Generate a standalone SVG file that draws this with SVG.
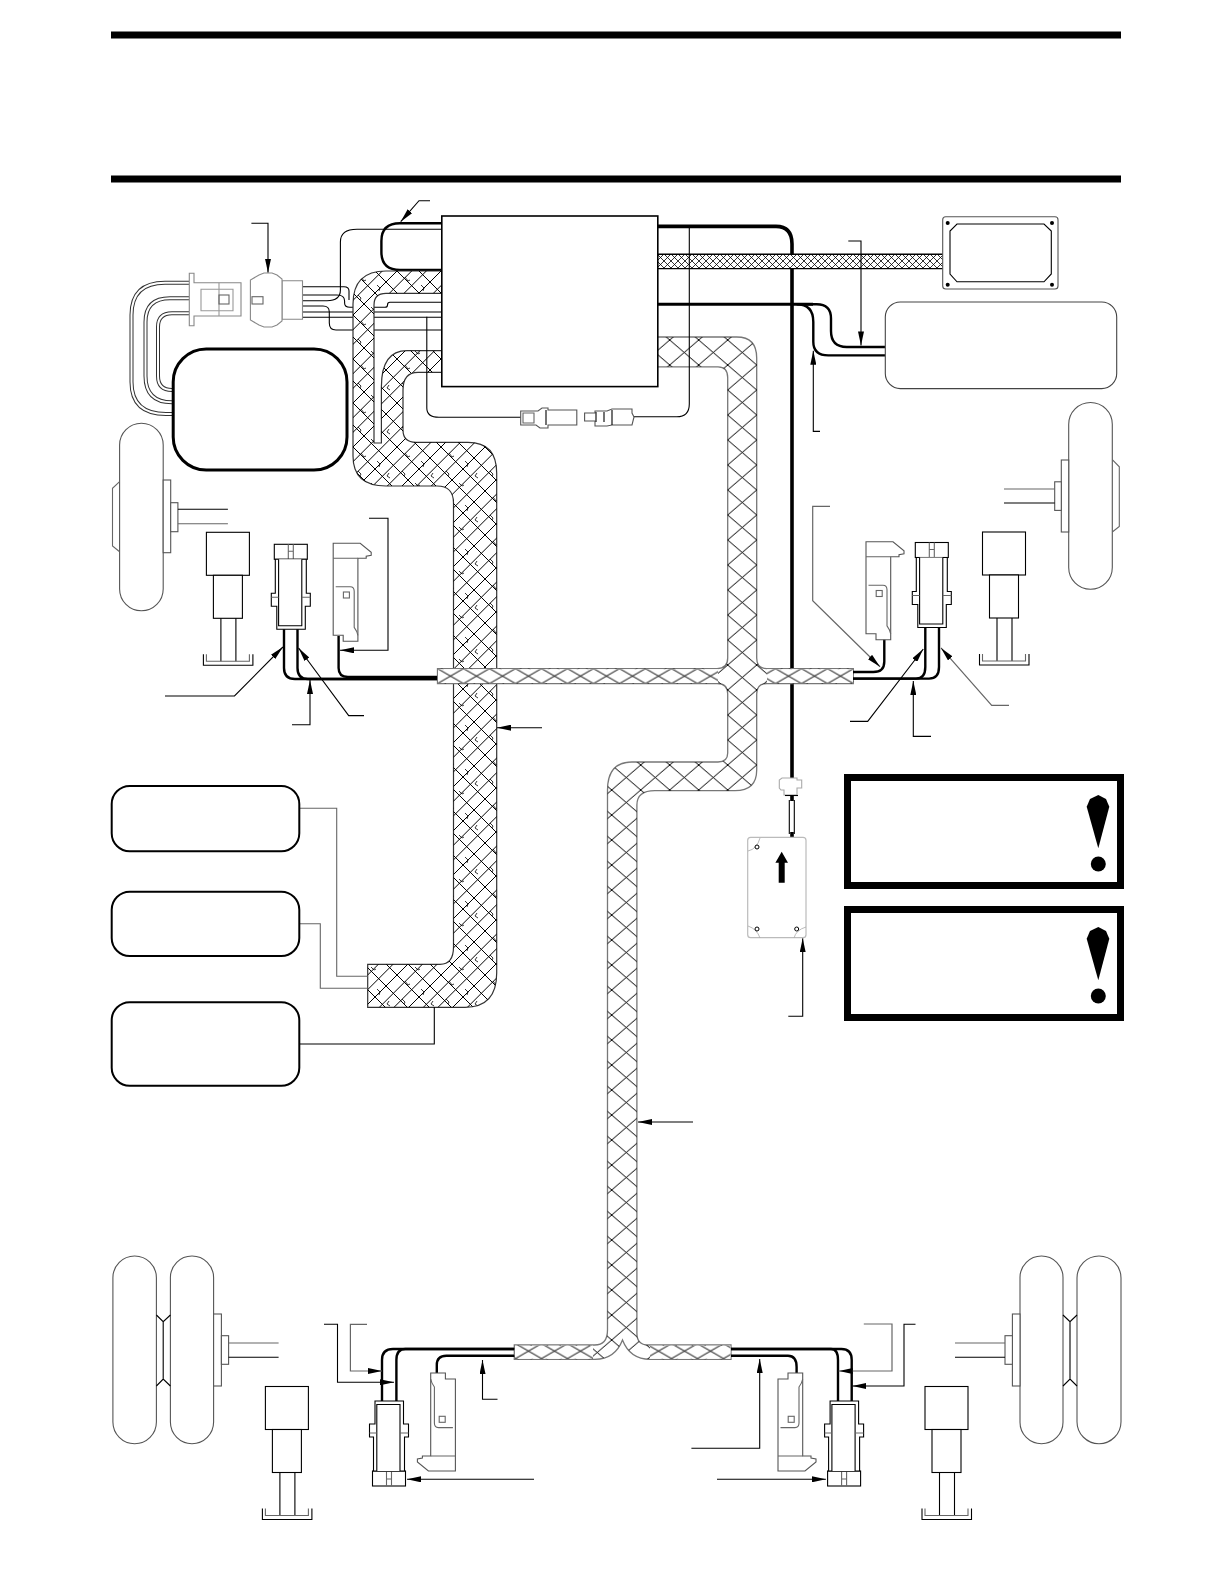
<svg xmlns="http://www.w3.org/2000/svg" width="1225" height="1585" viewBox="0 0 1225 1585">
<style>
.t{fill:none;stroke:#000;stroke-width:1.1}
.g{fill:none;stroke:#666;stroke-width:1.1}
.w{fill:#fff;stroke:#000;stroke-width:1.1}
.wg{fill:#fff;stroke:#555;stroke-width:1.1}
.wire{fill:none;stroke:#000;stroke-width:2.4}
.dbl{fill:none;stroke:#333;stroke-width:4}
.dbli{fill:none;stroke:#fff;stroke-width:2}
.lead{fill:none;stroke:#000;stroke-width:1.1;marker-end:url(#a)}
.leadg{fill:none;stroke:#666;stroke-width:1.2;marker-end:url(#a)}
.box{fill:#fff;stroke:#000;stroke-width:2}
.warn{fill:#fff;stroke:#000;stroke-width:7}
</style>
<defs>
<marker id="a" markerUnits="userSpaceOnUse" markerWidth="14" markerHeight="6" refX="14" refY="3" orient="auto"><path d="M0 0L14 3L0 6Z"/></marker>
<pattern id="hA" patternUnits="userSpaceOnUse" width="44" height="44" x="353" y="271">
<path d="M-1 1L1 -1M-1 15.67L15.67 -1M-1 30.33L30.33 -1M-1 45L45 -1M13.67 45L45 13.67M28.33 45L45 28.33M43 45L45 43M-1 -1L45 45M21 -1L45 23M43 -1L45 1M-1 21L23 45M-1 43L1 45" fill="none" stroke="#000" stroke-width="1"/>
<path d="M8 6l3 4l2 -1M24 14l3 3l-1 3M36 26l-2 3l3 2M5 24l3 3l-1 2M18 36l3 3l2 -1" fill="none" stroke="#000" stroke-width=".8"/>
</pattern>
<pattern id="hB" patternUnits="userSpaceOnUse" width="29" height="25" x="727.7" y="340">
<path d="M0 0L29 25M29 0L0 25" fill="none" stroke="#000" stroke-width="1"/>
</pattern>
<pattern id="hC" patternUnits="userSpaceOnUse" width="26" height="15" x="437.5" y="668.6">
<path d="M0 0L26 15M26 0L0 15" fill="none" stroke="#000" stroke-width="1"/>
</pattern>
<pattern id="hD" patternUnits="userSpaceOnUse" width="7" height="7" x="657" y="254">
<path d="M0 0L7 7M7 0L0 7" fill="none" stroke="#000" stroke-width=".8"/>
</pattern>
<g id="conn">
<rect class="w" x="0" y="0" width="33" height="15"/>
<path class="g" d="M14 0V15M19 0V15M14 7H19"/>
<path class="w" d="M1 15V49H-3V62H2.5V85H31V62H36V49H32V15Z"/>
<path class="w" d="M4.3 15V81.5H27.5V15"/>
<path class="g" d="M-3 53H4.3M27.5 53H36"/>
</g>
<g id="clip">
<path class="wg" d="M0 0H27L38 9V12L33 13V15H24.7V92L24.7 98H10V92H0Z"/>
<path class="g" d="M0 15H24.7M2.5 43.4H17Q21 43.4 21 48V84Q24 88 24.7 92"/>
<rect class="g" x="10.2" y="48.7" width="6" height="6"/>
</g>
<g id="jackUp">
<rect class="w" x="0" y="0" width="43" height="43"/>
<rect class="w" x="7" y="43" width="29" height="43"/>
<path class="t" d="M14.5 86V129M29.5 86V129"/>
<path class="t" d="M-3 122V133H46.5V122"/>
<path class="g" d="M0 122V129H43V122"/>
</g>
<g id="scr"><circle r="2" fill="#000"/></g>
</defs>

<rect width="1225" height="1585" fill="#fff"/>

<g id="header-rules">
<rect x="111" y="31.5" width="1010" height="7"/>
<rect x="111" y="175.5" width="1010" height="7"/>
</g>

<g id="connectors-under">
<path class="wire" d="M442 223.3H400Q381.4 223.3 381.4 241V252Q381.4 270 400 270H442"/>
<path class="t" d="M442 229.3H357Q340.4 229.3 340.4 242V290Q340.4 300.7 327 300.7H302.5"/>
<path class="t" d="M302.5 286.7H344Q349 286.7 349 291V300"/>
<path class="t" d="M302.5 295H337Q344.6 295 344.6 301V303Q344.6 307.3 350 307.3H385Q387.5 307.3 387.5 305Q387.5 302.3 390 302.3H442"/>
<path class="t" d="M302.5 306H323Q329.3 306 329.3 312V323Q329.3 330 336 330H442"/>
<path class="t" d="M302.5 312H442M302.5 317.3H442"/>
<path class="dbl" d="M189 282.7H165Q131.5 282.7 131.5 315V382Q131.5 414 166 414H174"/>
<path class="dbli" d="M189 282.7H165Q131.5 282.7 131.5 315V382Q131.5 414 166 414H174"/>
<path class="dbl" d="M189 298.3H170Q145.5 298.3 145.5 322V376Q145.5 402.3 172 402.3H174"/>
<path class="dbli" d="M189 298.3H170Q145.5 298.3 145.5 322V376Q145.5 402.3 172 402.3H174"/>
<path class="dbl" d="M189 313.3H172Q158 313.3 158 327V376Q158 390 172 390H174"/>
<path class="dbli" d="M189 313.3H172Q158 313.3 158 327V376Q158 390 172 390H174"/>
<path fill="none" stroke="#000" stroke-width="3.6" d="M657 226.4H776Q792 226.4 792 244V777"/>
</g>

<g id="harness-left">
<path fill="#fff" stroke="#333" stroke-width="1.2" d="M442 271H386Q353 271 353 304V456Q353 486 386 486H437Q453.5 486 453.5 503V947Q453.5 964.3 440 964.3H367.7V1007.3H465Q496.7 1007.3 496.7 973V473Q496.7 442.3 468 442.3H416Q403 442.3 403 430V390Q403 372.3 418 372.3H442V350.7H407Q381.4 350.7 381.4 386.7V443H374V305Q374 293.3 386 293.3H442Z"/>
<path fill="url(#hA)" d="M442 271H386Q353 271 353 304V456Q353 486 386 486H437Q453.5 486 453.5 503V947Q453.5 964.3 440 964.3H367.7V1007.3H465Q496.7 1007.3 496.7 973V473Q496.7 442.3 468 442.3H416Q403 442.3 403 430V390Q403 372.3 418 372.3H442V350.7H407Q381.4 350.7 381.4 386.7V443H374V305Q374 293.3 386 293.3H442Z"/>
</g>

<g id="harness-right">
<path fill="#fff" stroke="#777" stroke-width="1.3" d="M657 337H736.7Q756.7 337 756.7 358V658Q756.7 668.6 767 668.6H853.3V683.5H767Q756.7 683.5 756.7 694V770Q756.7 790.7 735 790.7H655Q636.9 790.7 636.9 805V1333Q636.9 1345 648 1345H731V1359.3H650Q630 1359.3 622.5 1340Q615 1359.3 595 1359.3H514.3V1345H594.6Q607.5 1345 607.5 1330V790Q607.5 762 632 762H718Q727.7 762 727.7 753V694Q727.7 683.5 717 683.5H437.5V668.6H717Q727.7 668.6 727.7 658V377.5Q727.7 366.8 718 366.8H657Z"/>
<path fill="url(#hB)" d="M657 337H736.7Q756.7 337 756.7 358V658Q756.7 668.6 767 668.6H853.3V683.5H767Q756.7 683.5 756.7 694V770Q756.7 790.7 735 790.7H655Q636.9 790.7 636.9 805V1333Q636.9 1345 648 1345H731V1359.3H650Q630 1359.3 622.5 1340Q615 1359.3 595 1359.3H514.3V1345H594.6Q607.5 1345 607.5 1330V790Q607.5 762 632 762H718Q727.7 762 727.7 753V694Q727.7 683.5 717 683.5H437.5V668.6H717Q727.7 668.6 727.7 658V377.5Q727.7 366.8 718 366.8H657Z"/>
<rect x="438" y="669.2" width="280" height="13.8" fill="#fff"/>
<rect x="438" y="669.2" width="280" height="13.8" fill="url(#hC)"/>
<rect x="767" y="669.2" width="86" height="13.8" fill="#fff"/>
<rect x="767" y="669.2" width="86" height="13.8" fill="url(#hC)"/>
<rect x="515" y="1345.6" width="78" height="13.2" fill="#fff"/>
<rect x="515" y="1345.6" width="78" height="13.2" fill="url(#hC)"/>
<rect x="650" y="1345.6" width="80.5" height="13.2" fill="#fff"/>
<rect x="650" y="1345.6" width="80.5" height="13.2" fill="url(#hC)"/>
</g>

<g id="harness-top">
<rect x="657" y="254.3" width="286" height="14.3" fill="#fff"/>
<rect x="657" y="254.3" width="286" height="14.3" fill="url(#hD)"/>
<path fill="none" stroke="#000" stroke-width="1.4" d="M657 254.3H943M657 268.6H943"/>
</g>

<g id="ecu"><rect x="441.8" y="216" width="216" height="170.6" fill="#fff" stroke="#000" stroke-width="1.6"/></g>

<g id="connectors">
<path class="t" d="M426.8 316.7V408Q426.8 417.3 439 417.3H521"/>
<path class="t" d="M689.3 226V404Q689.3 416.8 676.7 416.8H634"/>
<path fill="none" stroke="#000" stroke-width="3" d="M657 304.3H813"/>
<path class="wire" d="M800 304.3H816.7Q831 304.3 831 318.6V331Q831 347 846.7 347H885.3"/>
<path class="wire" d="M796.7 304.3Q813.3 304.3 813.3 322V341.8Q813.3 355.4 828.3 355.4H885.3"/>
<path class="wire" d="M284 627V668Q284 679 295 679H437"/>
<path class="wire" d="M297.5 627V668Q297.5 679 308 679H437"/>
<path class="wire" d="M338.6 636V668Q338.6 677 348 677H437"/>
<path class="wire" d="M884.3 638V661.4Q884.3 672 873.3 672H853"/>
<path class="wire" d="M925.3 626V667Q925.3 678.6 916 678.6H853"/>
<path class="wire" d="M939 626V667Q939 678.6 929 678.6H853"/>
<path class="wire" d="M514 1349H393Q382 1349 382 1360V1403"/>
<path class="wire" d="M514 1349H405.4Q396.4 1349 396.4 1360V1403"/>
<path class="wire" d="M514 1355.7H446.4Q436.8 1355.7 436.8 1365V1373"/>
<path class="wire" d="M731 1349H841.4Q851.7 1349 851.7 1360V1403"/>
<path class="wire" d="M731 1349H831Q838 1349 838 1360V1403"/>
<path class="wire" d="M731 1355.7H788Q796.6 1355.7 796.6 1367V1373"/>
<path class="t" d="M299.3 1044H434.3V1007"/>
<path class="g" d="M299.3 808.3H336.7V976.3H367.7"/>
<path class="g" d="M299.3 923.7H320.3V988.3H367.7"/>
<path fill="none" stroke="#000" stroke-width="3.6" d="M792 777V783"/>
<path fill="none" stroke="#000" stroke-width="3.6" d="M792 796V801M792 832V837"/>
<path class="t" d="M789.3 800V834M794.3 800V834"/>
</g>

<g id="leaders">
<path class="lead" d="M430 200.7H419L400.7 221.7"/>
<path class="lead" d="M251.4 223.3H268V272.7"/>
<path class="lead" d="M848.3 241H861V345.4"/>
<path class="lead" d="M820 431.4H813.3V350.7"/>
<path class="lead" d="M369 518.3H388V650.3H340"/>
<path class="lead" d="M165 696H234.5L282.9 647"/>
<path class="lead" d="M292 724.7H310V680"/>
<path class="lead" d="M364 715.6H348.7L298.6 648"/>
<path class="lead" d="M542 727.7H497"/>
<path class="lead" d="M693 1122H638"/>
<path class="leadg" d="M830 506.4H812.7V600.7L880 666.8"/>
<path class="lead" d="M850 721.4H867.7L923.3 649"/>
<path class="lead" d="M931 736.4H913.3V681"/>
<path class="leadg" d="M1009 705.4H991.7L941 647.9"/>
<path class="lead" d="M788.3 1016.3H802.7V938.3"/>
<path class="lead" d="M324 1324.3H337.5V1382.3H394"/>
<path class="leadg" d="M367 1324.3H350.4V1371H382"/>
<path class="lead" d="M497.5 1399.3H482.5V1360"/>
<path class="lead" d="M534 1479.3H407"/>
<path class="leadg" d="M863.8 1324H892V1371H838.6"/>
<path class="lead" d="M915.5 1324.3H904V1386H852.4"/>
<path class="lead" d="M691.4 1448.3H759.7V1359"/>
<path class="lead" d="M717 1479.3H825.9"/>
</g>

<g id="plug-left">
<path fill="#fff" stroke="#888" stroke-width="1.1" d="M189.3 273.3H194V282.7H241V316H194V325.7H189.3Z"/>
<path fill="none" stroke="#999" stroke-width="1.1" d="M219 282.7V316M201 289.3H233V310.7H201Z"/>
<rect class="g" x="219" y="295" width="10" height="9"/>
</g>
<g id="socket-left">
<path fill="#fff" stroke="#888" stroke-width="1.1" d="M282 280.7H302.5V319.3H282Z"/>
<path fill="#fff" stroke="#888" stroke-width="1.1" d="M259 275L264 273H272L277 275L282 279V321L277 325L272 327H264L259 325L250.4 320V280Z"/>
<rect class="g" x="252" y="296.7" width="11" height="7.3"/>
</g>
<g id="inline-connector-a">
<path class="wg" d="M520.7 411H538L542 408H548V410H576.8V425H548V428H540L536 425H520.7Z"/>
<path class="t" d="M546 410V425"/>
<path class="g" d="M523 413L534 413V423H523Z"/>
</g>
<g id="inline-connector-b">
<path class="wg" d="M584.6 413H595V411H607L612 409H632V413L634 417L632 425H612L607 426H595V421H584.6Z"/>
<path class="t" d="M596 412V422M604 412V422M612 410V425"/>
</g>
<g id="box-big"><rect x="173.2" y="349" width="173.8" height="121" rx="33" fill="#fff" stroke="#000" stroke-width="3"/></g>
<g id="box-plate">
<rect class="wg" x="942.7" y="216.8" width="115.3" height="72.2" rx="3"/>
<path class="t" d="M957 224H1044L1051.3 231V274L1044 281.8H957L950 274V231Z"/>
<use href="#scr" x="947.7" y="223"/><use href="#scr" x="1052" y="223"/><use href="#scr" x="947.7" y="284.7"/><use href="#scr" x="1052" y="284.7"/>
</g>
<g id="box-right"><rect x="885.3" y="302" width="231.4" height="86.6" rx="15" fill="#fff" stroke="#444" stroke-width="1.1"/></g>
<g id="box-a"><rect class="box" x="111.7" y="786" width="187.6" height="65.3" rx="18"/></g>
<g id="box-b"><rect class="box" x="111.7" y="891.7" width="187.6" height="64.3" rx="18"/></g>
<g id="box-c"><rect class="box" x="111.7" y="1002.3" width="187.6" height="83.4" rx="18"/></g>

<g id="warning-1">
<rect class="warn" x="847.5" y="777.5" width="273" height="108"/>
<path d="M1098.3 795L1106 799L1109.3 806.7L1098.3 848.3L1086.7 806.7L1090 799Z"/><circle cx="1098.3" cy="864" r="7.5"/>
</g>
<g id="warning-2">
<rect class="warn" x="847.5" y="909.5" width="273" height="108"/>
<path d="M1098.3 927L1106 931L1109.3 938.7L1098.3 980.3L1086.7 938.7L1090 931Z"/><circle cx="1098.3" cy="996" r="7.5"/>
</g>

<g id="module">
<path fill="#fff" stroke="#aaa" stroke-width="1.1" d="M782 778H797V780H801.7V788H797V795H784V790H781L779.3 788V780L782 778Z"/>
<path class="t" d="M785 795.5H798"/>
<rect x="747.7" y="837.3" width="58.3" height="100.4" rx="3" fill="#fff" stroke="#bbb" stroke-width="1.2"/>
<path fill="none" stroke="#aaa" stroke-width=".8" d="M748 851Q757 849 760 838M794 938Q796 930 806 927M748 926Q757 929 760 938"/>
<circle cx="757" cy="847" r="2" fill="#fff" stroke="#000"/><circle cx="757" cy="929" r="2" fill="#fff" stroke="#000"/><circle cx="796.7" cy="929" r="2" fill="#fff" stroke="#000"/>
<path d="M781.7 851.7L788 862.7H784.7V882.7H778.7V862.7H775.4Z"/>
</g>

<g id="wheel-left">
<rect class="wg" x="119.6" y="423.3" width="43.6" height="187.4" rx="21.8"/>
<path class="g" d="M119.6 481.7L112.5 488.3V546L119.6 551.7"/>
<rect class="wg" x="163.2" y="480" width="7.5" height="72.7"/>
<rect class="wg" x="170.7" y="502.7" width="7.2" height="29"/>
<path class="t" d="M177.9 509.3H227.9"/><path class="g" d="M177.9 523.7H227.9" stroke-width="1.6"/>
</g>
<use id="jack-left" href="#jackUp" x="206.4" y="532.3"/>
<use id="conn-left" href="#conn" x="274.3" y="544.3"/>
<use id="clip-left" href="#clip" x="333.2" y="543.3"/>

<g id="wheel-right">
<rect class="wg" x="1068.7" y="402.5" width="43.6" height="186.8" rx="21.8"/>
<path class="g" d="M1112.3 459.6L1119.3 466.8V526.4L1112.3 532"/>
<rect class="wg" x="1061.3" y="460" width="7.4" height="72"/>
<rect class="wg" x="1054.7" y="481.8" width="6.6" height="28.6"/>
<path class="g" d="M1004 489H1054.7" stroke-width="1.6"/><path class="t" d="M1004 503H1054.7"/>
</g>
<use id="jack-right" href="#jackUp" x="982.5" y="532"/>
<use id="conn-right" href="#conn" x="915.3" y="542.5"/>
<use id="clip-right" href="#clip" x="866" y="541.8"/>

<g id="wheels-rear-left">
<rect class="wg" x="112.9" y="1256" width="43.5" height="187.7" rx="21.7"/>
<rect class="wg" x="170.4" y="1256" width="43.2" height="187.7" rx="21.6"/>
<path class="t" d="M156.4 1315L163.2 1321.7L170.4 1315M163.2 1321.7V1379M156.4 1386L163.2 1379L170.4 1386"/>
<rect class="wg" x="213.6" y="1314" width="7.8" height="72"/>
<rect class="wg" x="221.4" y="1335.7" width="7.2" height="28.6"/>
<path class="g" d="M228.6 1343H278.6" stroke-width="1.6"/><path class="t" d="M228.6 1357.3H278.6"/>
</g>
<use id="jack-rear-left" href="#jackUp" x="265.4" y="1386.5"/>
<use id="conn-rear-left" href="#conn" transform="translate(372.5 1486) scale(1 -1)"/>
<use id="clip-rear-left" href="#clip" transform="translate(455.4 1471) scale(-1 -1)"/>

<g id="wheels-rear-right">
<rect class="wg" x="1020" y="1256" width="43" height="187.7" rx="21.5"/>
<rect class="wg" x="1077" y="1256" width="44" height="187.7" rx="22"/>
<path class="t" d="M1063 1315L1070 1321.7L1077 1315M1070 1321.7V1379M1063 1386L1070 1379L1077 1386"/>
<rect class="wg" x="1012.4" y="1314" width="7.6" height="72"/>
<rect class="wg" x="1005" y="1335.7" width="7.4" height="28.6"/>
<path class="g" d="M955 1343H1005" stroke-width="1.6"/><path class="t" d="M955 1357.3H1005"/>
</g>
<use id="jack-rear-right" href="#jackUp" x="925" y="1386.5"/>
<use id="conn-rear-right" href="#conn" transform="translate(827.6 1486) scale(1 -1)"/>
<use id="clip-rear-right" href="#clip" transform="translate(778 1471) scale(1 -1)"/>
</svg>
